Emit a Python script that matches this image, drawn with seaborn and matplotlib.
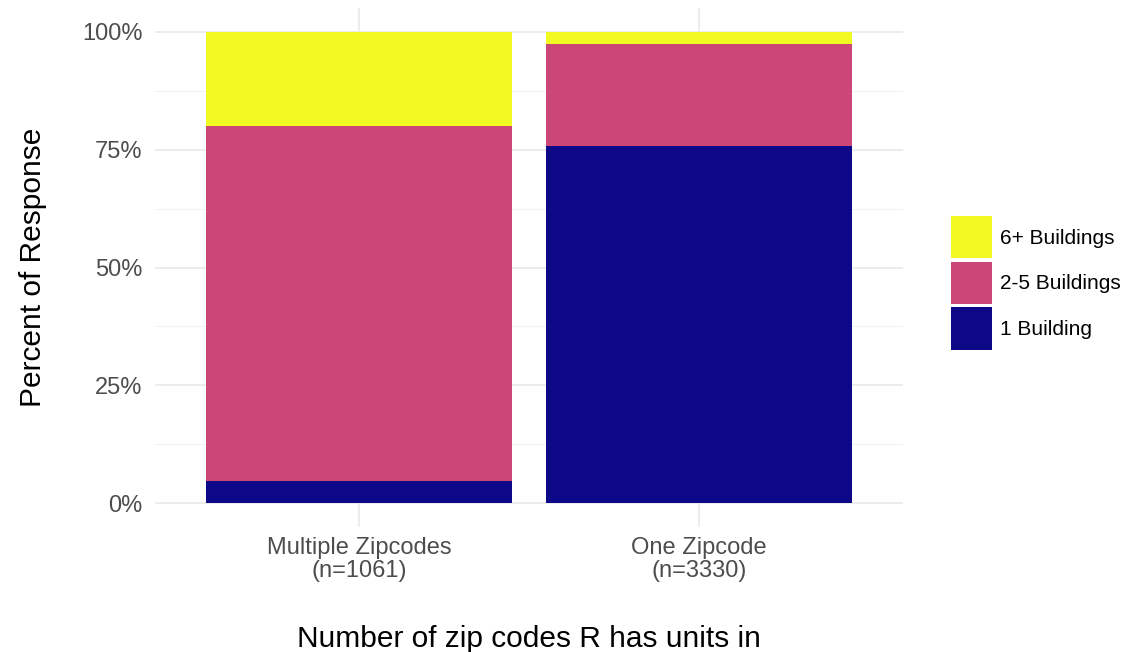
import matplotlib
matplotlib.use("Agg")
import matplotlib.pyplot as plt
import seaborn as sns
import pandas as pd
import numpy as np
from matplotlib.patches import Patch
from matplotlib.ticker import MultipleLocator, FuncFormatter

categories = ["Multiple Zipcodes\n(n=1061)", "One Zipcode\n(n=3330)"]
levels = ["1 Building", "2-5 Buildings", "6+ Buildings"]
one_building = [4.7, 75.8]
two_five = [75.2, 21.5]
six_plus = [20.1, 2.7]
colors = {"1 Building": "#0D0887", "2-5 Buildings": "#CC4678", "6+ Buildings": "#F0F921"}

sns.set_theme(style="white")
plt.rcParams["font.family"] = ["Liberation Sans", "DejaVu Sans"]

df = pd.DataFrame({"cat": categories, "1 Building": one_building,
                   "2-5 Buildings": two_five, "6+ Buildings": six_plus})
df["c1"] = df["1 Building"] / 100
df["c2"] = (df["1 Building"] + df["2-5 Buildings"]) / 100
df["c3"] = (df["1 Building"] + df["2-5 Buildings"] + df["6+ Buildings"]) / 100

fig = plt.figure(figsize=(11.25, 6.52), dpi=100)
ax = fig.add_axes([0.1378, 0.1917, 0.6649, 0.796])

for col, lev in [("c3", "6+ Buildings"), ("c2", "2-5 Buildings"), ("c1", "1 Building")]:
    sns.barplot(data=df, x="cat", y=col, color=colors[lev], width=0.9,
                saturation=1, linewidth=0, ax=ax, zorder=3, errorbar=None)

ax.set_xlim(-0.6, 1.6)
ax.set_ylim(-0.05, 1.05)
ax.yaxis.set_major_locator(MultipleLocator(0.25))
ax.yaxis.set_minor_locator(MultipleLocator(0.125))
ax.yaxis.set_major_formatter(FuncFormatter(lambda v, p: f"{v*100:.0f}%"))
ax.grid(True, which="major", axis="both", color="#EBEBEB", linewidth=1.3, zorder=0)
ax.grid(True, which="minor", axis="y", color="#F2F2F2", linewidth=0.8, zorder=0)
for s in ax.spines.values():
    s.set_visible(False)
ax.tick_params(axis="both", which="both", length=0, labelsize=17, labelcolor="#4D4D4D")
ax.tick_params(axis="x", pad=7)
ax.tick_params(axis="y", pad=9)
for t in ax.get_xticklabels():
    t.set_linespacing(1.1)
ax.set_xlabel("Number of zip codes R has units in", fontsize=21.5, color="black", labelpad=31)
ax.set_ylabel("Percent of Response", fontsize=21.5, color="black", labelpad=25.5)

handles = [Patch(facecolor=colors[l], edgecolor="none", label=l) for l in reversed(levels)]
fig.legend(handles=handles, loc="center left", bbox_to_anchor=(0.8377, 0.566),
           frameon=False, fontsize=15, handlelength=2.0, handleheight=2.75,
           labelspacing=0.16, handletextpad=0.35, borderaxespad=0, labelcolor="black")

fig.savefig("out.png", dpi=100)
